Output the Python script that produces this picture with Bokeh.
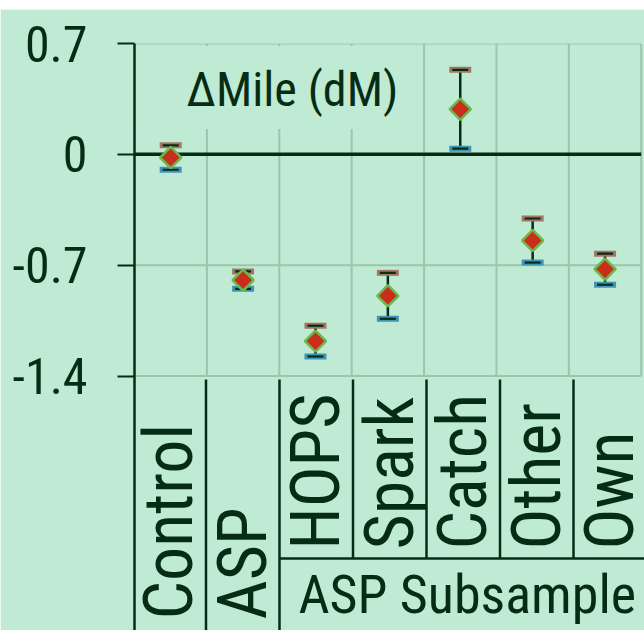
import math

from bokeh.core.properties import value
from bokeh.embed import file_html
from bokeh.layouts import column
from bokeh.models import BoxAnnotation, ColumnDataSource, FixedTicker, Label, Range1d, Spacer
from bokeh.plotting import figure
from bokeh.resources import INLINE

# ---- data -------------------------------------------------------------
categories = ["Control", "ASP", "HOPS", "Spark", "Catch", "Other", "Own"]
subsample = ["HOPS", "Spark", "Catch", "Other", "Own"]
group_label = "ASP Subsample"
means = [-0.02, -0.794, -1.179, -0.893, 0.285, -0.544, -0.725]
errors = [0.077, 0.055, 0.097, 0.145, 0.249, 0.139, 0.098]
y_ticks = [0.7, 0, -0.7, -1.4]
y_tick_labels = ["0.7", "0", "-0.7", "-1.4"]
title_text = "\u0394Mile (dM)"

# ---- style ------------------------------------------------------------
BG = "#BFEAD3"
GRID = "#9BC6AC"
DARK = "#062D14"
RED = "#C92D1C"
GREEN = "#6BB84C"
BROWN = "#A47565"
BLUE = "#4094B5"
FONT = "Roboto Condensed"

n = len(categories)
xc = [i + 0.5 for i in range(n)]
upper = [m + e for m, e in zip(means, errors)]
lower = [m - e for m, e in zip(means, errors)]
src = ColumnDataSource(dict(x=xc, y=means, upper=upper, lower=lower))

p = figure(
    width=644, height=621,
    x_range=Range1d(0, n + 0.045), y_range=Range1d(-3.006, 0.7),
    x_axis_location=None, toolbar_location=None, output_backend="svg",
    min_border_left=134, min_border_right=0, min_border_top=34, min_border_bottom=0,
    background_fill_color=BG, border_fill_color=BG, outline_line_color=None,
)
p.xgrid.visible = False
p.ygrid.visible = False

# label panel coordinates: categories spaced slightly wider, y measured in page pixels
p.extra_x_ranges = {"panel": Range1d(2 / 73.5, 512 / 73.5)}
p.extra_y_ranges = {"panel": Range1d(630, 43)}

# y axis
ax = p.yaxis[0]
ax.ticker = FixedTicker(ticks=y_ticks)
ax.major_label_overrides = dict(zip(y_ticks, y_tick_labels))
ax.major_label_text_font = FONT
ax.major_label_text_font_size = "50px"
ax.major_label_text_color = DARK
ax.major_label_standoff = 30
ax.major_tick_out = 17
ax.major_tick_in = 0
ax.major_tick_line_width = 2
ax.major_tick_line_color = DARK
ax.minor_tick_line_color = None
ax.axis_line_width = 2.5
ax.axis_line_color = DARK

# grid lines inside the plotting area
grid_y = [t for t in y_ticks if t != 0]
p.segment(x0=[0] * len(grid_y), x1=[n] * len(grid_y), y0=grid_y, y1=grid_y,
          line_color=GRID, line_width=2)
bounds = list(range(1, n + 1))
p.segment(x0=bounds, x1=bounds, y0=[min(y_ticks)] * n, y1=[max(y_ticks)] * n,
          line_color=GRID, line_width=2)

# title with an opaque backing box
p.add_layout(BoxAnnotation(left=0.03, right=3.95, bottom=0.16, top=0.685,
                           fill_color=BG, fill_alpha=1, line_color=None))
p.add_layout(Label(x=2.18, y=0.41, text=title_text, text_align="center",
                   text_baseline="middle", text_font=FONT, text_font_size="48px",
                   text_color=DARK))

# zero reference line
p.segment(x0=[0], x1=[n], y0=[0], y1=[0], line_color=DARK, line_width=3.5)

# error bars and means
p.segment(x0="x", x1="x", y0="lower", y1="upper", source=src, line_color=DARK, line_width=2.5)
p.rect(x="x", y="upper", width=22, height=6, width_units="screen", height_units="screen",
       source=src, fill_color=BROWN, line_color=None)
p.rect(x="x", y="lower", width=22, height=6, width_units="screen", height_units="screen",
       source=src, fill_color=BLUE, line_color=None)
p.scatter(x="x", y="upper", marker="dash", size=16, source=src, line_color=DARK, line_width=2.2)
p.scatter(x="x", y="lower", marker="dash", size=16, source=src, line_color=DARK, line_width=2.2)
p.scatter(x="x", y="y", marker="square", angle=math.pi / 4, size=15, source=src,
          fill_color=RED, line_color=GREEN, line_width=2.5)

# category label panel
top_px, split_px, bottom_px = 379, 558, 630
first_sub = categories.index(subsample[0])
sep_x = list(range(1, n))
sep_bottom = [bottom_px if k <= first_sub else split_px for k in sep_x]
p.segment(x0=sep_x, x1=sep_x, y0=[top_px] * len(sep_x), y1=sep_bottom,
          x_range_name="panel", y_range_name="panel", line_color=DARK, line_width=2.5)
p.segment(x0=[first_sub], x1=[n + 1], y0=[split_px], y1=[split_px],
          x_range_name="panel", y_range_name="panel", line_color=DARK, line_width=2.5)

lab_y = [549 if c in subsample else 619 for c in categories]
p.text(x=xc, y=lab_y, text=categories, angle=math.pi / 2,
       x_range_name="panel", y_range_name="panel",
       text_align="left", text_baseline="middle",
       text_font=value(FONT), text_font_size="68px", text_color=DARK)
p.text(x=[(first_sub + n) / 2], y=[594], text=[group_label], x_offset=4,
       x_range_name="panel", y_range_name="panel",
       text_align="center", text_baseline="middle",
       text_font=value(FONT), text_font_size="54px", text_color=DARK)

layout = column(Spacer(width=644, height=9), p)
open("out.html", "w").write(file_html(layout, INLINE))
